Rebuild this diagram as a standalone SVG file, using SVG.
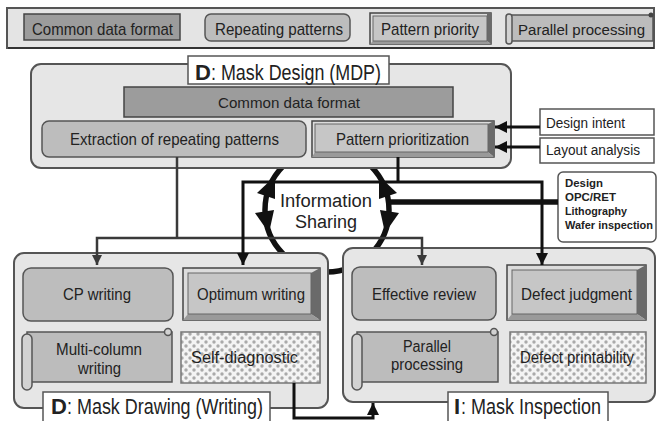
<svg xmlns="http://www.w3.org/2000/svg" width="658" height="421" viewBox="0 0 658 421">
<defs>
<style>
text{font-family:"Liberation Sans",Arial,sans-serif;fill:#222;}
.t18{font-size:17px;}
.t17{font-size:16px;}
.t16{font-size:15px;}
.t15{font-size:14px;}
.ti{font-size:22px;}
.tib{font-size:22px;font-weight:bold;}
.tb{font-size:11px;font-weight:bold;}
.panel{fill:#e6e6e6;stroke:#555;stroke-width:2;}
.title{fill:#fff;stroke:#555;stroke-width:1.5;}
.plain{fill:#fff;stroke:#555;stroke-width:1.5;}
.cdf{fill:#9c9c9c;stroke:#444;stroke-width:1.5;}
.rep{fill:#bdbdbd;stroke:#555;stroke-width:1.5;}
.bv-o{fill:#dcdcdc;stroke:#444;stroke-width:1.5;}
.bv-i{fill:#c6c6c6;stroke:#666;stroke-width:1;}
.bv-r{fill:#6a6a6a;}
.bv-b{fill:#9a9a9a;}
.sc{fill:#bcbcbc;stroke:#555;stroke-width:1.5;}
.sc-roll{fill:#d2d2d2;stroke:#555;stroke-width:1.5;}
.dot{fill:url(#dots);stroke:#777;stroke-width:1.5;}
.ln-g{fill:none;stroke:#3a3a3a;stroke-width:2.5;}
.ln-k{fill:none;stroke:#111;stroke-width:3;}
.ln-t{fill:none;stroke:#111;stroke-width:5.5;}
</style>
<pattern id="dots" width="8" height="8" patternUnits="userSpaceOnUse">
<rect width="8" height="8" fill="#f4f4f4"/>
<circle cx="2" cy="2" r="1.7" fill="#aaa"/>
<circle cx="6" cy="6" r="1.7" fill="#aaa"/>
</pattern>
<marker id="ag" viewBox="0 0 10 10" refX="10" refY="5" markerWidth="10" markerHeight="10" markerUnits="userSpaceOnUse" orient="auto-start-reverse">
<path d="M0,0 L10,5 L0,10 z" fill="#3a3a3a"/>
</marker>
<marker id="ak" viewBox="0 0 10 10" refX="10" refY="5" markerWidth="12" markerHeight="12" markerUnits="userSpaceOnUse" orient="auto-start-reverse">
<path d="M0,0 L10,5 L0,10 z" fill="#111"/>
</marker>
</defs>

<!-- Legend -->
<g id="legend">
<rect x="7" y="8" width="647" height="40" fill="#e4e4e4" stroke="#555" stroke-width="2"/>
<line x1="8" y1="48" x2="654" y2="48" stroke="#333" stroke-width="2"/>
<g id="legend-cdf">
<rect x="24" y="14" width="156" height="26" class="cdf"/>
<text x="32" y="35" class="t18" textLength="141" lengthAdjust="spacingAndGlyphs">Common data format</text>
</g>
<g id="legend-rep">
<rect x="205" y="14" width="145" height="27" rx="6" class="rep"/>
<text x="215" y="35" class="t18" textLength="128" lengthAdjust="spacingAndGlyphs">Repeating patterns</text>
</g>
<g id="legend-pri">
<rect x="370" y="13" width="121" height="31" class="bv-o"/>
<polygon points="487,13 491,13 491,44 487,41" class="bv-r"/>
<polygon points="370,44 373,41 487,41 491,44" class="bv-b"/>
<rect x="373" y="16" width="114" height="25" class="bv-i"/>
<text x="381" y="35" class="t18" textLength="98" lengthAdjust="spacingAndGlyphs">Pattern priority</text>
</g>
<g id="legend-par">
<rect x="510" y="15" width="143" height="26" class="sc"/>
<rect x="506" y="14" width="6" height="30" rx="3" class="sc-roll"/>
<circle cx="651" cy="15" r="2.5" fill="#444"/>
<text x="518" y="35" style="font-size:15.5px" textLength="127" lengthAdjust="spacingAndGlyphs">Parallel processing</text>
</g>
</g>

<!-- Information sharing circle (drawn behind panels) -->
<g id="info-sharing">
<circle cx="327" cy="210" r="62" fill="none" stroke="#111" stroke-width="5.5"/>
<polygon points="275,176 257,193 275,199" fill="#111"/>
<polygon points="269,233 255,213 274,210" fill="#111"/>
<polygon points="379,176 397,193 379,199" fill="#111"/>
<polygon points="385,233 399,213 380,210" fill="#111"/>
<text x="280" y="207" style="font-size:18px" textLength="92" lengthAdjust="spacingAndGlyphs">Information</text>
<text x="295" y="228" style="font-size:18px" textLength="62" lengthAdjust="spacingAndGlyphs">Sharing</text>
</g>

<!-- Mask Design panel -->
<g id="mask-design">
<rect x="31" y="64" width="480" height="104" rx="10" class="panel"/>
<rect x="188" y="56" width="201" height="28" class="title"/>
<text x="195" y="80" class="tib">D</text>
<text x="211" y="80" class="ti" textLength="170" lengthAdjust="spacingAndGlyphs">: Mask Design (MDP)</text>
</g>
<g id="md-cdf">
<rect x="124" y="87" width="329" height="30" class="cdf"/>
<text x="218" y="108" class="t16" textLength="142" lengthAdjust="spacingAndGlyphs">Common data format</text>
</g>
<g id="md-extraction">
<rect x="42" y="121" width="264" height="36" rx="7" class="rep"/>
<text x="70" y="145" class="t18" textLength="209" lengthAdjust="spacingAndGlyphs">Extraction of repeating patterns</text>
</g>
<g id="md-prioritization">
<rect x="312" y="121" width="182" height="36" class="bv-o"/>
<polygon points="488,124 494,121 494,157 488,152" class="bv-r"/>
<polygon points="312,157 315,152 488,152 494,157" class="bv-b"/>
<rect x="315" y="124" width="173" height="28" class="bv-i"/>
<text x="336" y="145" class="t18" textLength="133" lengthAdjust="spacingAndGlyphs">Pattern prioritization</text>
</g>
<g id="design-intent">
<rect x="540" y="109" width="114" height="26" class="plain"/>
<text x="546" y="128" class="t15" textLength="79" lengthAdjust="spacingAndGlyphs">Design intent</text>
</g>
<g id="layout-analysis">
<rect x="540" y="138" width="114" height="25" class="plain"/>
<text x="546" y="155" class="t15" textLength="94" lengthAdjust="spacingAndGlyphs">Layout analysis</text>
</g>
<g id="design-list">
<rect x="558" y="172" width="98" height="70" rx="5" class="plain"/>
<text x="565" y="187" class="tb" textLength="38" lengthAdjust="spacingAndGlyphs">Design</text>
<text x="565" y="201" class="tb" textLength="51" lengthAdjust="spacingAndGlyphs">OPC/RET</text>
<text x="565" y="215" class="tb" textLength="62" lengthAdjust="spacingAndGlyphs">Lithography</text>
<text x="565" y="229" class="tb" textLength="88" lengthAdjust="spacingAndGlyphs">Wafer inspection</text>
</g>

<!-- Mask Drawing panel -->
<g id="mask-drawing">
<rect x="14" y="253" width="314" height="155" rx="10" class="panel"/>
</g>
<g id="cp-writing">
<rect x="23" y="268" width="150" height="53" rx="8" class="rep"/>
<text x="63" y="300" class="t17" textLength="68" lengthAdjust="spacingAndGlyphs">CP writing</text>
</g>
<g id="optimum-writing">
<rect x="183" y="268" width="137" height="52" class="bv-o"/>
<polygon points="311,273 320,268 320,320 311,314" class="bv-r"/>
<polygon points="183,320 188,314 311,314 320,320" class="bv-b"/>
<rect x="188" y="273" width="123" height="41" class="bv-i"/>
<text x="197" y="300" class="t17" textLength="108" lengthAdjust="spacingAndGlyphs">Optimum writing</text>
</g>
<g id="multi-column">
<rect x="27" y="332" width="145" height="50" class="sc"/>
<rect x="22" y="334" width="10" height="56" rx="5" class="sc-roll"/>
<circle cx="168" cy="332" r="3.5" class="sc-roll"/>
<text x="56" y="355" class="t17" textLength="86" lengthAdjust="spacingAndGlyphs">Multi-column</text>
<text x="78" y="374" class="t17" textLength="43" lengthAdjust="spacingAndGlyphs">writing</text>
</g>
<g id="self-diagnostic">
<rect x="181" y="332" width="139" height="51" class="dot"/>
<text x="191" y="363" class="t17" textLength="107" lengthAdjust="spacingAndGlyphs">Self-diagnostic</text>
</g>
<g id="mask-drawing-title">
<rect x="43" y="392" width="227" height="34" class="title"/>
<text x="51" y="414" class="tib">D</text>
<text x="67" y="414" class="ti" textLength="196" lengthAdjust="spacingAndGlyphs">: Mask Drawing (Writing)</text>
</g>

<!-- Mask Inspection panel -->
<g id="mask-inspection">
<rect x="343" y="248" width="312" height="154" rx="10" class="panel"/>
</g>
<g id="effective-review">
<rect x="352" y="267" width="144" height="53" rx="8" class="rep"/>
<text x="372" y="300" class="t17" textLength="104" lengthAdjust="spacingAndGlyphs">Effective review</text>
</g>
<g id="defect-judgment">
<rect x="507" y="265" width="139" height="55" class="bv-o"/>
<polygon points="637,270 646,265 646,320 637,314" class="bv-r"/>
<polygon points="507,320 512,314 637,314 646,320" class="bv-b"/>
<rect x="512" y="270" width="125" height="44" class="bv-i"/>
<text x="521" y="300" class="t17" textLength="111" lengthAdjust="spacingAndGlyphs">Defect judgment</text>
</g>
<g id="parallel-processing">
<rect x="357" y="332" width="141" height="50" class="sc"/>
<rect x="352" y="334" width="10" height="56" rx="5" class="sc-roll"/>
<circle cx="494" cy="332" r="3.5" class="sc-roll"/>
<text x="403" y="352" class="t17" textLength="48" lengthAdjust="spacingAndGlyphs">Parallel</text>
<text x="391" y="370" class="t17" textLength="72" lengthAdjust="spacingAndGlyphs">processing</text>
</g>
<g id="defect-printability">
<rect x="510" y="332" width="136" height="51" class="dot"/>
<text x="520" y="363" class="t17" textLength="114" lengthAdjust="spacingAndGlyphs">Defect printability</text>
</g>
<g id="mask-inspection-title">
<rect x="448" y="392" width="160" height="34" class="title"/>
<text x="454" y="414" class="tib">I</text>
<text x="461" y="414" class="ti" textLength="140" lengthAdjust="spacingAndGlyphs">: Mask Inspection</text>
</g>

<!-- Connectors -->
<g id="connectors">
<path d="M177,157 V238" class="ln-g"/>
<path d="M97,265 V238 H422 V265" class="ln-g" marker-start="url(#ag)" marker-end="url(#ag)"/>
<path d="M398,157 V182" class="ln-k"/>
<path d="M243,265 V182 H542 V265" class="ln-k" marker-start="url(#ak)" marker-end="url(#ak)"/>
<path d="M388,202 H558" class="ln-t"/>
<path d="M540,127 H495" class="ln-k" stroke-width="2.5" marker-end="url(#ak)"/>
<path d="M540,147 H495" class="ln-k" stroke-width="2.5" marker-end="url(#ak)"/>
<path d="M294,383 V418 H373 V403" class="ln-k" marker-end="url(#ak)"/>
</g>
</svg>
